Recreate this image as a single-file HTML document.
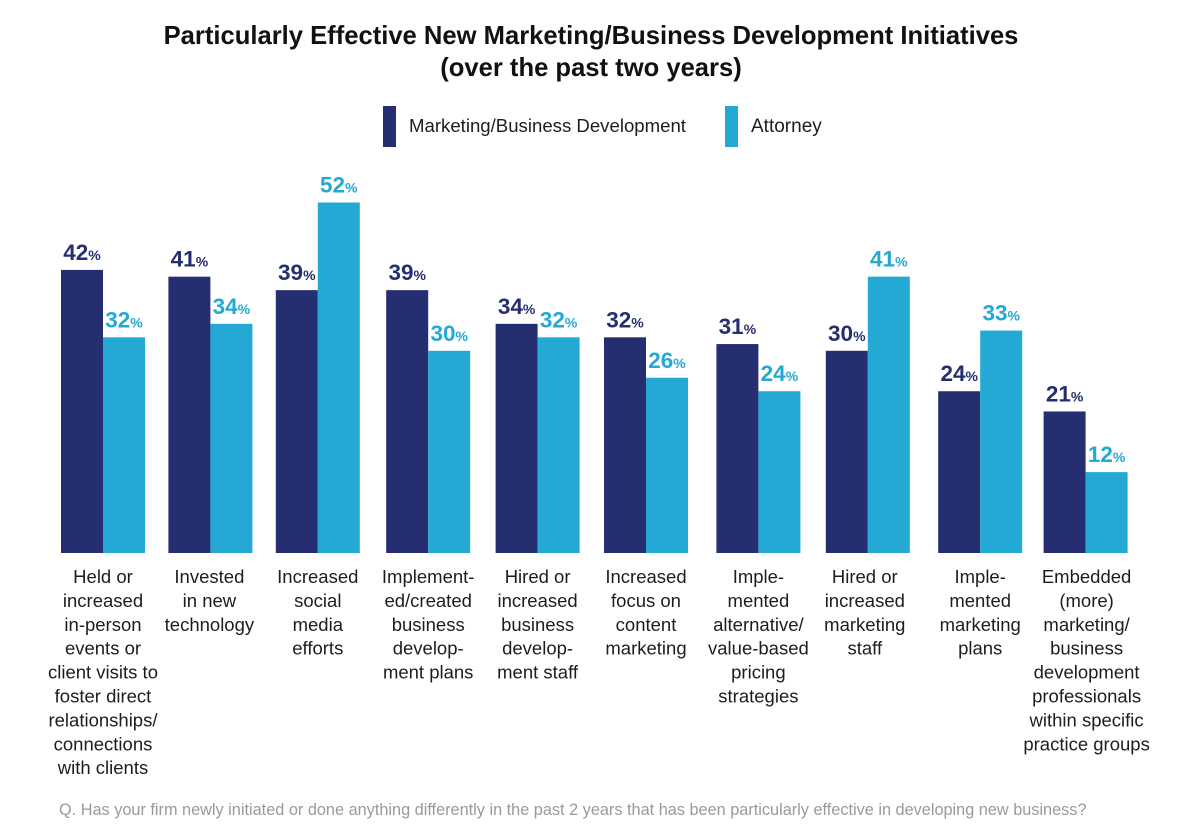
<!DOCTYPE html>
<html lang="en">
<head>
<meta charset="utf-8">
<title>Particularly Effective New Marketing/Business Development Initiatives</title>
<style>
html,body{margin:0;padding:0;background:#fff;}
svg{display:block;font-family:"Liberation Sans",sans-serif;}
.cat{font-size:18.5px;fill:#1d1d1d;text-anchor:middle;}
.val{font-size:22.5px;font-weight:bold;}
.pct{font-size:14px;font-weight:bold;}
</style>
</head>
<body>
<svg id="chart" width="1181" height="832" viewBox="0 0 1181 832" xmlns="http://www.w3.org/2000/svg">
  <rect x="0" y="0" width="1181" height="832" fill="#ffffff"/>
  <text x="591" y="44" text-anchor="middle" font-size="25.6" font-weight="bold" fill="#111">Particularly Effective New Marketing/Business Development Initiatives</text>
  <text x="591" y="76" text-anchor="middle" font-size="25.6" font-weight="bold" fill="#111">(over the past two years)</text>
  <g>
    <rect x="383" y="106" width="13" height="41" fill="#262e72"/>
    <text x="409" y="132" font-size="18.6" fill="#1d1d1d">Marketing/Business Development</text>
    <rect x="725" y="106" width="13" height="41" fill="#23a9d3"/>
    <text x="751" y="132" font-size="19" fill="#1d1d1d">Attorney</text>
  </g>
  <g id="bars"></g>
  <g id="values"></g>
  <g id="cats"></g>
  <text x="59" y="815" font-size="16.3" fill="#9a9a9a">Q. Has your firm newly initiated or done anything differently in the past 2 years that has been particularly effective in developing new business?</text>
</svg>
<script>
const categories = [
  ["Held or","increased","in-person","events or","client visits to","foster direct","relationships/","connections","with clients"],
  ["Invested","in new","technology"],
  ["Increased","social","media","efforts"],
  ["Implement-","ed/created","business","develop-","ment plans"],
  ["Hired or","increased","business","develop-","ment staff"],
  ["Increased","focus on","content","marketing"],
  ["Imple-","mented","alternative/","value-based","pricing","strategies"],
  ["Hired or","increased","marketing","staff"],
  ["Imple-","mented","marketing","plans"],
  ["Embedded","(more)","marketing/","business","development","professionals","within specific","practice groups"]
];
const marketingValues = [42, 41, 39, 39, 34, 32, 31, 30, 24, 21];
const attorneyValues = [32, 34, 52, 30, 32, 26, 24, 41, 33, 12];
const seriesNames = ["marketing", "attorney"];

const NS = "http://www.w3.org/2000/svg";
const baseY = 553, unit = 6.74, barW = 42;
const firstX = 61, stepX = 109.4;
const groupNudge = [0, -2, -4, -3, -3, -4, -1, -1, 2, -2];
const labelNudge = [0, -1, 0, 0, 0, 0, 0, -3, 0, 1];
const colors = ["#262e72", "#23a9d3"];
const yPos = v => baseY - v * unit;
const groupX = i => firstX + i * stepX + groupNudge[i];

const barsG = document.getElementById("bars");
const valuesG = document.getElementById("values");
const catsG = document.getElementById("cats");

[marketingValues, attorneyValues].forEach((series, s) => {
  series.forEach((v, i) => {
    const x = groupX(i) + s * barW;
    const r = document.createElementNS(NS, "rect");
    r.setAttribute("x", x);
    r.setAttribute("y", yPos(v));
    r.setAttribute("width", barW);
    r.setAttribute("height", baseY - yPos(v));
    r.setAttribute("fill", colors[s]);
    
    
    barsG.appendChild(r);

    const t = document.createElementNS(NS, "text");
    t.setAttribute("x", x + barW / 2);
    t.setAttribute("y", yPos(v) - 10);
    t.setAttribute("text-anchor", "middle");
    t.setAttribute("fill", colors[s]);
    
    
    const a = document.createElementNS(NS, "tspan");
    a.setAttribute("class", "val");
    a.textContent = v;
    const b = document.createElementNS(NS, "tspan");
    b.setAttribute("class", "pct");
    b.textContent = "%";
    t.appendChild(a);
    t.appendChild(b);
    valuesG.appendChild(t);
  });
});

categories.forEach((lines, i) => {
  const t = document.createElementNS(NS, "text");
  t.setAttribute("class", "cat");
  
  
  lines.forEach((line, k) => {
    const sp = document.createElementNS(NS, "tspan");
    sp.setAttribute("x", groupX(i) + barW + labelNudge[i]);
    sp.setAttribute("y", 583 + k * 23.9);
    sp.textContent = line;
    t.appendChild(sp);
  });
  catsG.appendChild(t);
});
</script>
</body>
</html>
